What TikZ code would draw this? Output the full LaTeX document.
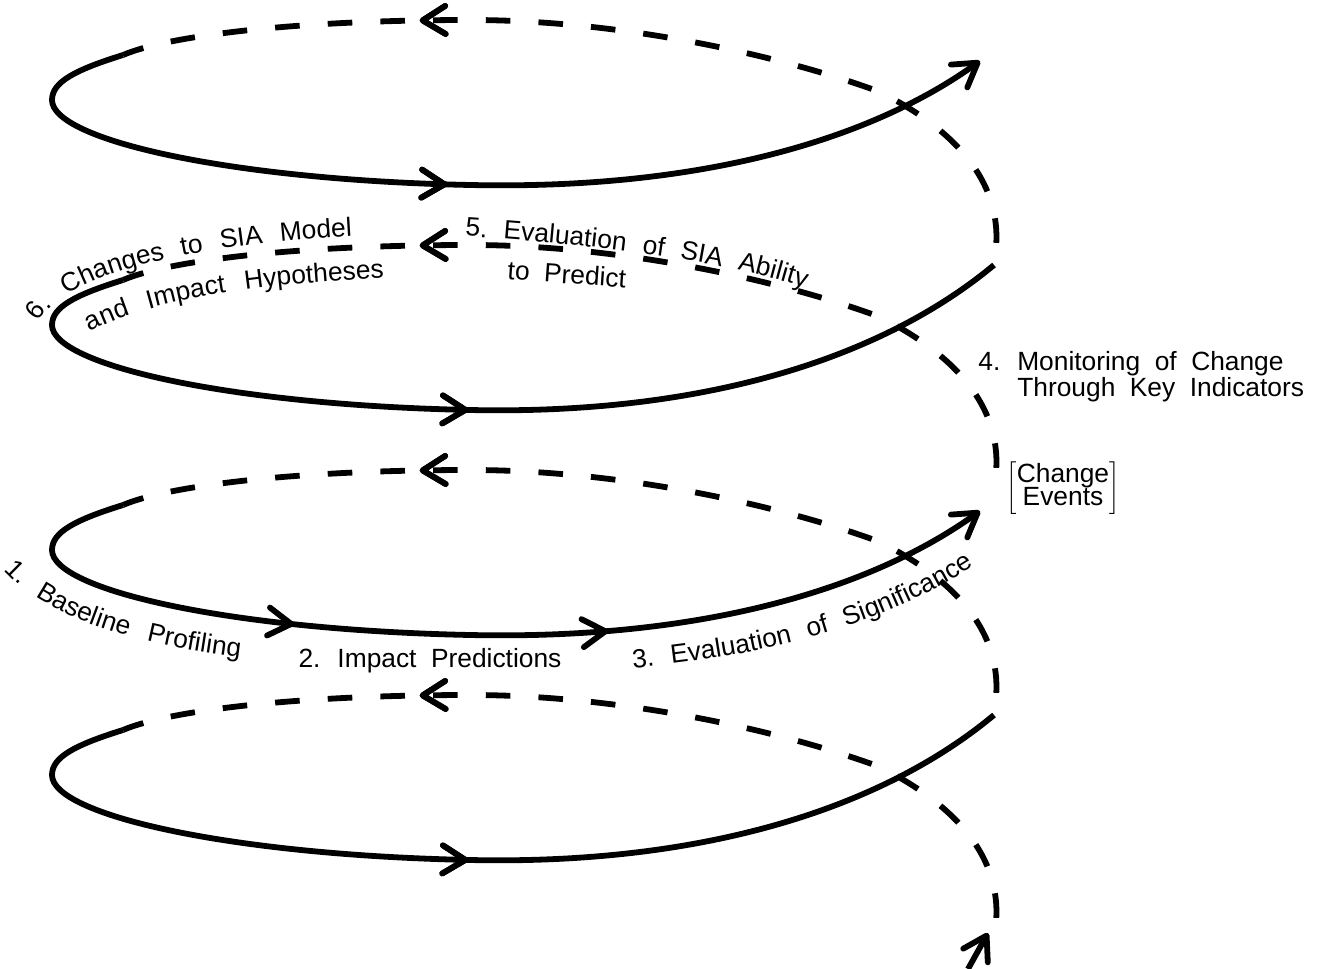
\documentclass[tikz,border=0pt]{standalone}
\usepackage{fontspec}
\setmainfont{Liberation Sans}
\usetikzlibrary{arrows.meta,decorations.markings,decorations.text}

\newcommand{\lblfont}{\fontsize{15}{16}\selectfont\spaceskip=0.55em}
\tikzset{
  >={Straight Barb[length=13pt,width=16pt,round]},
  front/.style={line width=3.3pt, line join=round},
  back/.style={line width=3.3pt, dash pattern=on 14pt off 16pt, dash phase=19pt},
  arrowsat/.style 2 args={postaction={decorate},
    decoration={markings, mark=at position #1 with {\arrow{>}},
      mark=at position #2 with {\arrow{>}}}},
  bentlabel/.style={decorate, decoration={text along path,
    text align=fit to path stretching spaces, text={|\lblfont|#1}}},
  lbl/.style={font=\lblfont, inner sep=0pt},
}

\begin{document}
\begin{tikzpicture}[x=0.02cm, y=-0.02cm]
\useasboundingbox (0,0) rectangle (1324,969);

\foreach \o in {0,225,450,675}
  \draw[back, arrowsat={0.697}{0.697}] (994,262+\o) .. controls (1006,200+\o) and (975,140+\o) .. (880,92+\o)
    .. controls (780,55+\o) and (620,20+\o) .. (470,20+\o)
    .. controls (300,20+\o) and (170,35+\o) .. (123,55+\o);

\foreach \o/\pa/\pb in {0/0.475/0.475, 450/0.33/0.627}
  \draw[front, ->, arrowsat={\pa}{\pb}] (123,55+\o) .. controls (75,70+\o) and (52,82+\o) .. (52,100+\o)
    .. controls (52,140+\o) and (230,180+\o) .. (470,185+\o)
    .. controls (700,190+\o) and (870,140+\o) .. (980,61+\o);
\foreach \o in {225,675}
  \draw[front, arrowsat={0.485}{0.485}] (123,55+\o) .. controls (75,70+\o) and (52,82+\o) .. (52,100+\o)
    .. controls (52,140+\o) and (230,180+\o) .. (470,185+\o)
    .. controls (700,190+\o) and (880,135+\o) .. (994,40+\o);

\coordinate (tail) at (968,969);
\coordinate (head) at (988,933);
\draw[front, ->] (tail) -- (head);

\path[bentlabel={1. Baseline Profiling}] (4,570) .. controls (40,610) and (115,642) .. (240,657);
\path[bentlabel={3. Evaluation of Significance}] (633,668) .. controls (753,657) and (873,631) .. (974,566);
\path[bentlabel={5. Evaluation of SIA Ability}] (465,236) .. controls (600,245) and (720,260) .. (805,288);
\path[bentlabel={6. Changes to SIA Model}] (38,322) .. controls (70,270) and (200,245) .. (352,236);
\path[bentlabel={and Impact Hypotheses}] (90,332) .. controls (140,305) and (230,285) .. (384,278);

\node[lbl] (impact) at (430,661) {2. Impact Predictions};
\node[lbl, rotate=-4] (predict) at (567,274) {to Predict};
\node[lbl, anchor=north west, align=left] (monitor) at (978,351)
  {4. Monitoring of Change\\[-1pt]\phantom{4. }Through Key Indicators};
\node[lbl] (events) at (1063,488)
  {$\left[\begin{tabular}{@{}c@{}}\lblfont Change\\[-3pt]\lblfont Events\end{tabular}\right]$};
\end{tikzpicture}
\end{document}
